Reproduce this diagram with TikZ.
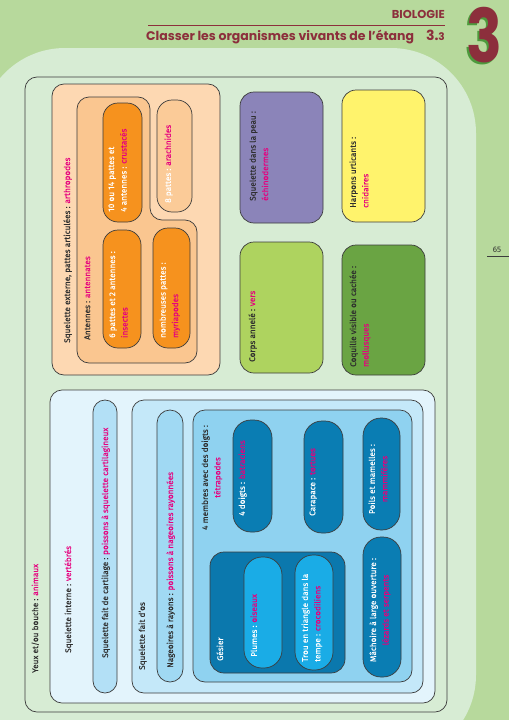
\documentclass[tikz,border=0pt]{standalone}
\usepackage{fontspec}
\setmainfont{Fira Sans}
\newfontfamily\bodyf{Fira Sans}[FakeBold=0.04]
\newfontfamily\hdf{Poppins}
\definecolor{bggreen}{HTML}{B7D99C}
\definecolor{lightgreen}{HTML}{D7ECD4}
\definecolor{peach}{HTML}{FDD8B2}
\definecolor{antc}{HTML}{FAC690}
\definecolor{orangec}{HTML}{F6921E}
\definecolor{arachc}{HTML}{FBCB98}
\definecolor{echinoc}{HTML}{8B84B9}
\definecolor{cnidc}{HTML}{FFF36C}
\definecolor{versc}{HTML}{AED35F}
\definecolor{mollc}{HTML}{6AA443}
\definecolor{vertc}{HTML}{E3F4FC}
\definecolor{cartc}{HTML}{B3E0F6}
\definecolor{osc}{HTML}{C4E8F9}
\definecolor{nagc}{HTML}{A0D9F3}
\definecolor{tetrac}{HTML}{8FD2F0}
\definecolor{tealc}{HTML}{0A7DB3}
\definecolor{gesc}{HTML}{0B78AD}
\definecolor{brightc}{HTML}{1AACE6}
\definecolor{pinkc}{HTML}{E6007E}
\definecolor{txtc}{HTML}{2E2E2E}
\definecolor{linec}{HTML}{3C3C3C}
\definecolor{hdred}{HTML}{8C2F3C}
\definecolor{shadowg}{HTML}{4D9A3C}
\newcommand\pk[1]{\textcolor{pinkc}{#1}}
\begin{document}
\begin{tikzpicture}[x=1pt,y=-1pt,
  bx/.style={draw=linec, line width=0.7pt, rounded corners=#1},
  bx/.default=12pt,
  lbl/.style={rotate=90, inner sep=0pt, font=\bodyf\fontsize{8.2}{12.5}\selectfont, text=txtc, align=left, anchor=north west},
  wlbl/.style={lbl, text=white},
  clbl/.style={lbl, align=center, anchor=north},
  wclbl/.style={clbl, text=white}]
\useasboundingbox (0,0) rectangle (509,720);
% backgrounds
\fill[bggreen] (0,0) rectangle (509,720);
\fill[lightgreen, rounded corners=85pt] (-20,48) -- (476,48) -- (476,760) -- (-20,760) -- cycle;
% header
\node[anchor=base east, inner sep=0pt, font=\hdf\bfseries\fontsize{11.5}{12}\selectfont, text=hdred] (bio) at (445,19) {BIOLOGIE};
\coordinate (hl1) at (148,25);
\coordinate (hl2) at (445,25);
\draw[hdred, line width=1pt] (hl1) -- (hl2);
\node[anchor=base west, inner sep=0pt, font=\hdf\bfseries\fontsize{12.5}{13}\selectfont, text=hdred] (title) at (146,40) {Classer les organismes vivants de l’étang};
\node[anchor=base east, inner sep=0pt, font=\hdf\bfseries\fontsize{14}{14}\selectfont, text=hdred] (num) at (445,40) {3.{\fontsize{10.5}{11}\selectfont 3}};
\node[inner sep=0pt, font=\hdf\bfseries\fontsize{74}{74}\selectfont, text=shadowg] (bigs) at (482,37) {\scalebox{0.8}[1]{3}};
\node[inner sep=0pt, font=\hdf\bfseries\fontsize{74}{74}\selectfont, text=hdred] (bigt) at (484,35) {\scalebox{0.8}[1]{3}};
\node[anchor=base, inner sep=0pt, font=\fontsize{8}{9}\selectfont, text=txtc] (page) at (497,252) {65};
\coordinate (pl1) at (487,256);
\coordinate (pl2) at (509,256);
\draw[linec, line width=0.7pt] (pl1) -- (pl2);
% outer box
\draw[bx] (25,77) rectangle (447,712);
% arthropodes
\draw[bx, fill=peach] (52,84) rectangle (220,375);
\draw[bx, fill=antc] (77,97) -- (150,97) -- (150,220) -- (197,220) -- (197,363) -- (77,363) -- cycle;
\draw[bx=15pt, fill=orangec] (103,103) rectangle (142,222);
\draw[bx=15pt, fill=arachc] (157,100) rectangle (192,212);
\draw[bx=15pt, fill=orangec] (103,230) rectangle (141,348);
\draw[bx=15pt, fill=orangec] (153,228) rectangle (190,348);
\node[lbl] (arthro) at (63.3,343) {Squelette externe, pattes articulées : \pk{arthropodes}};
\node[lbl] (antenn) at (84.3,340) {Antennes : \pk{antennates}};
\node[wlbl] (crust) at (108.3,212) {10 ou 14 pattes et\\4 antennes : \pk{crustacés}};
\node[wlbl] (arach) at (164.3,203) {8 pattes : \pk{arachnides}};
\node[wlbl] (insect) at (109.3,338) {6 pattes et 2 antennes :\\\pk{insectes}};
\node[wlbl] (myria) at (159.3,338) {nombreuses pattes :\\\pk{myriapodes}};
% other invertebrates
\draw[bx=14pt, fill=echinoc] (240,92) rectangle (323,223);
\draw[bx=14pt, fill=cnidc] (342,90) rectangle (425,222);
\draw[bx=14pt, fill=versc] (240,242) rectangle (323,373);
\draw[bx=14pt, fill=mollc] (342,245) rectangle (425,375);
\node[lbl] (echino) at (249.3,201) {Squelette dans la peau :\\\pk{échinodermes}};
\node[lbl] (cnid) at (349.3,208) {Harpons urticants :\\\pk{cnidaires}};
\node[lbl] (vers) at (248.3,362) {Corps annelé : \pk{vers}};
\node[lbl] (moll) at (349.3,367) {Coquille visible ou cachée :\\\pk{mollusques}};
% vertebrates
\draw[bx, fill=vertc] (50,390) rectangle (435,703);
\draw[bx, fill=cartc] (93,400) rectangle (117,693);
\draw[bx, fill=osc] (132,400) rectangle (423,693);
\draw[bx=13pt, fill=nagc] (157,410) rectangle (183,682);
\draw[bx, fill=tetrac] (193,410) rectangle (412,682);
\draw[bx=18pt, fill=tealc] (233,420) rectangle (272,532);
\draw[bx=18pt, fill=tealc] (304,421) rectangle (343,533);
\draw[bx=18pt, fill=tealc] (363,418) rectangle (400,530);
\draw[bx=14pt, fill=gesc] (210,552) rectangle (345,673);
\draw[bx=18pt, fill=brightc] (244,557) rectangle (282,668);
\draw[bx=18pt, fill=brightc] (295,555) rectangle (333,670);
\draw[bx=18pt, fill=tealc] (363,537) rectangle (401,677);
\node[lbl] (anim) at (31.3,673) {Yeux et/ou bouche : \pk{animaux}};
\node[lbl] (vert) at (64.3,653) {Squelette interne : \pk{vertébrés}};
\node[lbl] (cart) at (101.3,658) {Squelette fait de cartilage : \pk{poissons à squelette cartilagineux}};
\node[lbl] (os) at (138.3,670) {Squelette fait d’os};
\node[lbl] (nag) at (166.3,668) {Nageoires à rayons : \pk{poissons à nageoires rayonnées}};
\node[clbl] (tetra) at (201.3,477.5) {4 membres avec des doigts :\\\pk{tétrapodes}};
\node[wclbl] (batr) at (238.3,478) {4 doigts : \pk{batraciens}};
\node[wclbl] (tort) at (309.3,482) {Carapace : \pk{tortues}};
\node[wclbl] (mamm) at (368.3,479) {Poils et mamelles :\\\pk{mammifères}};
\node[wlbl] (gesier) at (216.3,661) {Gésier};
\node[wlbl] (ois) at (250.3,657) {Plumes : \pk{oiseaux}};
\node[wlbl] (croc) at (301.3,662) {Trou en triangle dans la\\tempe : \pk{crocodiliens}};
\node[wclbl] (lez) at (369.3,610) {Mâchoire à large ouverture :\\\pk{lézards et serpents}};
\end{tikzpicture}
\end{document}
